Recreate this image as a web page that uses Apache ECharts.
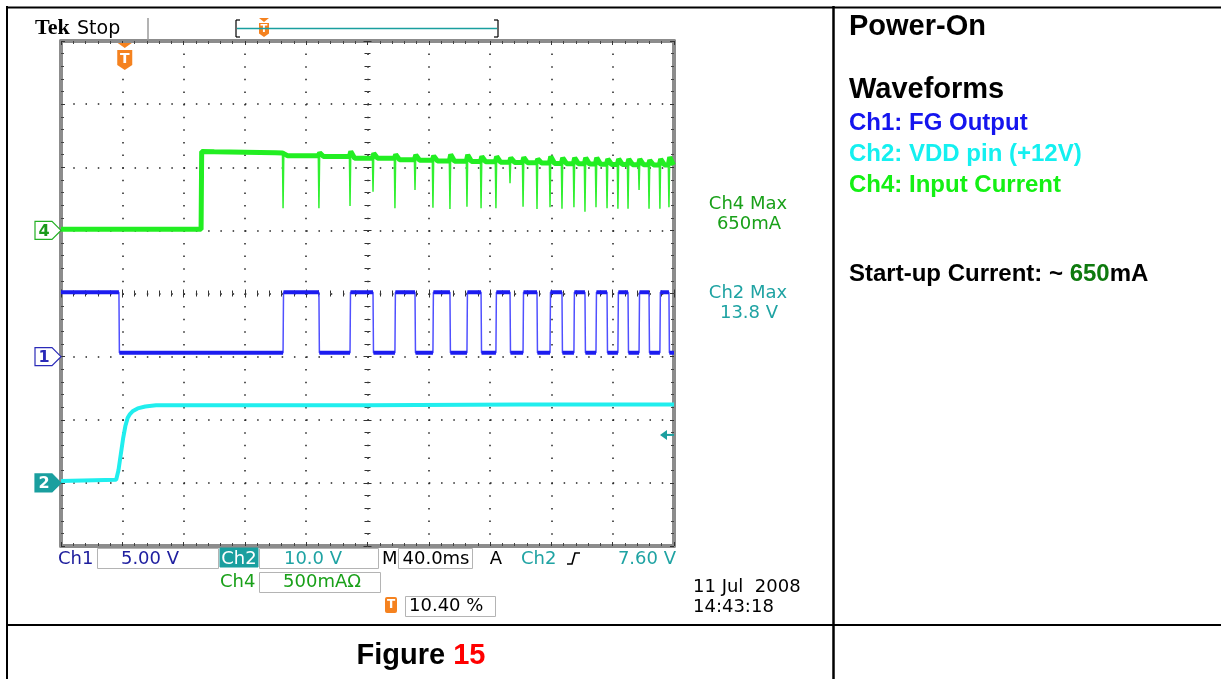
<!DOCTYPE html>
<html><head><meta charset="utf-8">
<script src="https://cdn.jsdelivr.net/npm/echarts@6/dist/echarts.min.js"></script>
<style>html,body{margin:0;padding:0;background:#fff}#c{width:1221px;height:679px}</style>
</head><body><div id="c"></div>
<script>
// ================= DATA =================
// time axis: record time in ms, 40 ms/div, 10 divisions
const timeRange = [0, 400];
const timeDiv = 40;
const triggerTime = 41.6;          // 10.40 % of record
const ch2TriggerLevel = 7.6;       // V
// Ch1 (FG output), 5 V/div: starts high, toggles at each edge time (ms)
const ch1Edges = [37.8, 144.9, 168.3, 188.6, 203.6, 217.9, 231.0, 242.7, 253.8, 264.9, 274.1, 283.8, 293.0, 301.5, 310.6, 319.1, 326.9, 334.7, 341.9, 349.1, 356.3, 363.4, 370.0, 377.2, 383.7, 390.8, 396.7];
const ch1High = 5.1;   // V
const ch1Low = 0.3;    // V
// Ch2 (VDD pin), 10 V/div
const ch2Time = [0, 36.0, 37.5, 39.0, 40.5, 42.0, 43.5, 45.0, 47.0, 50.0, 55.0, 62.0, 100, 200, 300, 400];
const ch2Volt = [0.3, 0.5, 2.0, 4.5, 7.0, 9.0, 10.3, 10.9, 11.4, 11.8, 12.1, 12.3, 12.3, 12.3, 12.4, 12.4];
// Ch4 (input current), 500 mA/div
const ch4Idle = 8;                 // mA before start
const ch4StepTime = 91.4;          // ms
const ch4PlateauTime = [91.8, 100, 120, 140];
const ch4PlateauVal = [625, 622, 618, 614];
// one commutation spike at each FG edge after start-up
const ch4SpikeLevel  = [612, 592, 585, 572, 571, 560, 556, 550, 548, 545, 543, 540, 538, 535, 533, 530, 528, 527, 525, 524, 522, 521, 520, 519, 518, 518];
const ch4SpikeBottom = [175, 175, 193, 307, 175, 320, 180, 170, 188, 175, 175, 373, 188, 170, 183, 172, 183, 148, 183, 175, 172, 172, 320, 172, 172, 183];
const ch4SpikePeak   = [620, 615, 625, 610, 600, 598, 590, 600, 598, 585, 585, 575, 578, 565, 585, 575, 575, 575, 575, 565, 565, 565, 565, 555, 565, 580];
const ch4EndVal = 518;
// channel scales (value per division)
const ch1Axis = {min: -15, max: 25, interval: 5};
const ch2Axis = {min: -10, max: 70, interval: 10};
const ch4Axis = {min: -2500, max: 1500, interval: 500};

// ================= BUILD SERIES =================
function ch1Thin() {
  const pts = []; let lvl = ch1High;
  pts.push([timeRange[0], lvl]);
  ch1Edges.forEach(t => { pts.push([t, lvl]); lvl = (lvl === ch1High ? ch1Low : ch1High); pts.push([t + 0.3, lvl]); });
  pts.push([timeRange[1], lvl]);
  return pts;
}
function ch1Thick() {
  const pts = []; let lvl = ch1High; let start = timeRange[0];
  ch1Edges.forEach(t => { pts.push([start, lvl]); pts.push([t, lvl]); pts.push('-'); lvl = (lvl === ch1High ? ch1Low : ch1High); start = t + 0.3; });
  pts.push([start, lvl]); pts.push([timeRange[1], lvl]);
  return pts;
}
const spikeTimes = ch1Edges.slice(1);
function ch4Data(withSpikes) {
  const pts = [[timeRange[0], ch4Idle], [ch4StepTime, ch4Idle]];
  ch4PlateauTime.forEach((t, i) => pts.push([t, ch4PlateauVal[i]]));
  spikeTimes.forEach((t, i) => {
    const next = i + 1 < ch4SpikeLevel.length ? ch4SpikeLevel[i + 1] : ch4EndVal;
    pts.push([t - 0.4, ch4SpikeLevel[i]]);
    if (withSpikes) pts.push([t, ch4SpikeBottom[i]]);
    pts.push([t + 0.5, ch4SpikePeak[i]]);
    pts.push([t + 3, next]);
  });
  pts.push([timeRange[1], ch4EndVal]);
  return pts;
}
const ch2Data = ch2Time.map((t, i) => [t, ch2Volt[i]]);

// ================= CHART =================
const chart = echarts.init(document.getElementById('c'), null, {renderer: 'canvas'});
const FRAME = {show: true, onZero: false, lineStyle: {color: '#8c8c8c', width: 4}};
const NOLINE = {show: false, onZero: false};
function xAx(extra) {
  return Object.assign({type: 'value', min: timeRange[0], max: timeRange[1], interval: timeDiv,
    axisLabel: {show: false}, splitLine: {show: false}, axisLine: NOLINE, axisTick: {show: false}, minorTick: {show: false}}, extra);
}
function yAx(scale, extra) {
  return Object.assign({type: 'value', min: scale.min, max: scale.max, interval: scale.interval,
    axisLabel: {show: false}, splitLine: {show: false}, axisLine: NOLINE, axisTick: {show: false}, minorTick: {show: false}}, extra);
}
const tickStyle = {show: true, inside: true, length: 4, lineStyle: {color: '#333', width: 1}};
const minorStyle = {show: true, splitNumber: 5, length: 3, lineStyle: {color: '#444', width: 1}};
const cTickIn = {show: true, inside: true, length: 4, lineStyle: {color: '#333'}};
const cTickOut = {show: true, inside: false, length: 4, lineStyle: {color: '#333'}};
const cMinor = {show: true, splitNumber: 5, length: 3, lineStyle: {color: '#333'}};

const option = {
  animation: false,
  backgroundColor: '#fff',
  grid: {left: 61, top: 41, width: 613, height: 505, containLabel: false, outerBoundsMode: 'none'},
  xAxis: [
    xAx({position: 'bottom', axisLine: FRAME, axisTick: tickStyle, minorTick: minorStyle,
      splitLine: {show: true, lineStyle: {color: '#222', width: 1.5, type: [1.5, 11.12]}}}),
    xAx({position: 'top', axisLine: FRAME, axisTick: tickStyle, minorTick: minorStyle}),
    xAx({position: 'bottom', offset: -252.5, axisTick: cTickIn, minorTick: cMinor}),
    xAx({position: 'bottom', offset: -252.5, axisTick: cTickOut, minorTick: cMinor})
  ],
  yAxis: [
    yAx(ch2Axis, {position: 'left', axisLine: FRAME, axisTick: tickStyle, minorTick: minorStyle,
      splitLine: {show: true, lineStyle: {color: '#222', width: 1.5, type: [1.5, 10.76]}}}),
    yAx(ch1Axis, {show: false}),
    yAx(ch4Axis, {show: false}),
    yAx(ch2Axis, {position: 'right', axisLine: FRAME, axisTick: tickStyle, minorTick: minorStyle}),
    yAx(ch2Axis, {position: 'left', offset: -306.5, axisTick: cTickIn, minorTick: cMinor}),
    yAx(ch2Axis, {position: 'left', offset: -306.5, axisTick: cTickOut, minorTick: cMinor})
  ],
  series: [
    {name: 'Ch2', type: 'line', xAxisIndex: 0, yAxisIndex: 0, data: ch2Data, symbol: 'none',
      lineStyle: {color: '#20eeee', width: 4}, z: 3},
    {name: 'Ch1 edges', type: 'line', xAxisIndex: 0, yAxisIndex: 1, data: ch1Thin(), symbol: 'none',
      lineStyle: {color: '#5050ff', width: 1.5}, z: 3},
    {name: 'Ch1', type: 'line', xAxisIndex: 0, yAxisIndex: 1, data: ch1Thick(), symbol: 'none', connectNulls: false,
      lineStyle: {color: '#1c1cf0', width: 4}, z: 4},
    {name: 'Ch4 spikes', type: 'line', xAxisIndex: 0, yAxisIndex: 2, data: ch4Data(true), symbol: 'none',
      lineStyle: {color: '#30f030', width: 1.5}, z: 5},
    {name: 'Ch4', type: 'line', xAxisIndex: 0, yAxisIndex: 2, data: ch4Data(false), symbol: 'none',
      lineStyle: {color: '#22ee22', width: 5}, z: 5}
  ]
};
chart.setOption(option);

// ================= DECORATION =================
function txt(text, x, base, size, family, color, opt) {
  opt = opt || {};
  const al = opt.align || 'left';
  return {type: 'text', x: x, y: base - size * 0.3, z: 100,
    style: {text: text, font: (opt.bold ? 'bold ' : '') + size + 'px ' + family, fill: color,
      align: al, textAlign: al, verticalAlign: 'middle', textVerticalAlign: 'middle', rich: opt.rich}};
}
const SC = '"DejaVu Sans"';
const AR = '"Liberation Sans", Arial';
const ORANGE = '#f5821f';
const TEAL = '#1a9f9f';
const LTEAL = '#1fa3a3';
const GRN = '#19a019';

const yG4 = chart.convertToPixel({yAxisIndex: 2}, 0);
const yG1 = chart.convertToPixel({yAxisIndex: 1}, 0);
const yG2 = chart.convertToPixel({yAxisIndex: 0}, 0);
const xTrig = chart.convertToPixel({xAxisIndex: 0}, triggerTime);
const yTrigLvl = chart.convertToPixel({yAxisIndex: 0}, ch2TriggerLevel);

function marker(y, stroke, fill, label, labelColor) {
  return [
    {type: 'polygon', z: 90, shape: {points: [[35, y - 9], [52, y - 9], [61, y], [52, y + 9], [35, y + 9]]},
      style: {fill: fill, stroke: stroke, lineWidth: 1.2}},
    {type: 'text', x: 44, y: y + 1, z: 91, style: {text: label, font: 'bold 16px ' + SC, fill: labelColor,
      align: 'center', textAlign: 'center', verticalAlign: 'middle', textVerticalAlign: 'middle'}}
  ];
}
function tShield(cx, top, w, h, fs) {
  return [
    {type: 'polygon', z: 95, shape: {points: [[cx - w / 2, top], [cx + w / 2, top], [cx + w / 2, top + h * 0.75], [cx, top + h], [cx - w / 2, top + h * 0.75]]},
      style: {fill: ORANGE}},
    {type: 'text', x: cx, y: top + h * 0.45, z: 96, style: {text: 'T', font: 'bold ' + fs + 'px ' + SC, fill: '#fff',
      align: 'center', textAlign: 'center', verticalAlign: 'middle', textVerticalAlign: 'middle'}}
  ];
}
function box(x, y, w, h, fill) {
  return {type: 'rect', z: 80, shape: {x: x, y: y, width: w, height: h}, style: {fill: fill || 'none', stroke: fill ? fill : '#b4b4b4', lineWidth: 1}};
}
function line(x1, y1, x2, y2, color, w) {
  return {type: 'line', z: 99, shape: {x1: x1, y1: y1, x2: x2, y2: y2}, style: {stroke: color, lineWidth: w}};
}

const g = [];
// table lines
g.push(line(6, 7.5, 1221, 7.5, '#000', 2));
g.push(line(7, 6, 7, 679, '#000', 2));
g.push(line(833.5, 6, 833.5, 679, '#000', 2.5));
g.push(line(6, 625, 1221, 625, '#000', 2));
// header
g.push(txt('Tek', 35, 35, 22, '"Liberation Serif", "DejaVu Serif"', '#000', {bold: true}));
g.push(txt('Stop', 77, 35, 19, SC, '#000'));
g.push(line(148, 18, 148, 40, '#9a9a9a', 1.5));
g.push(line(237, 28.5, 497, 28.5, TEAL, 1.5));
g.push(line(236, 20, 236, 37, '#000', 1.2), line(236, 20, 240, 20, '#000', 1.2), line(236, 37, 240, 37, '#000', 1.2));
g.push(line(498, 20, 498, 37, '#000', 1.2), line(494, 20, 498, 20, '#000', 1.2), line(494, 37, 498, 37, '#000', 1.2));
g.push({type: 'polygon', z: 95, shape: {points: [[259, 18], [269, 18], [264, 22]]}, style: {fill: ORANGE}});
g.push.apply(g, tShield(264, 23, 10, 14, 10));
// trigger position marker on graticule
g.push({type: 'polygon', z: 95, shape: {points: [[xTrig - 7, 43], [xTrig + 7, 43], [xTrig, 48]]}, style: {fill: ORANGE}});
g.push.apply(g, tShield(xTrig, 50, 15, 20, 14));
// channel ground markers
g.push.apply(g, marker(yG4, '#22b022', '#fff', '4', '#1a9a1a'));
g.push.apply(g, marker(yG1, '#2a2ab8', '#fff', '1', '#2a2ab8'));
g.push.apply(g, marker(yG2, TEAL, TEAL, '2', '#fff'));
// trigger level arrow
g.push({type: 'polygon', z: 95, shape: {points: [[660, yTrigLvl], [667, yTrigLvl - 5], [667, yTrigLvl + 5]]}, style: {fill: TEAL}});
g.push(line(666, yTrigLvl, 674, yTrigLvl, TEAL, 2));
// right side readouts
g.push(txt('Ch4 Max', 748, 210, 18, SC, GRN, {align: 'center'}));
g.push(txt('650mA', 749, 230, 18, SC, GRN, {align: 'center'}));
g.push(txt('Ch2 Max', 748, 299, 18, SC, LTEAL, {align: 'center'}));
g.push(txt('13.8 V', 749, 319, 18, SC, LTEAL, {align: 'center'}));
// status bar
g.push(box(97.5, 548.5, 121, 20));
g.push(box(220, 548, 38, 19, TEAL));
g.push(box(259.5, 548.5, 119, 20));
g.push(box(398.5, 548.5, 74, 20));
g.push(box(259.5, 572.5, 121, 20));
g.push(box(405.5, 596.5, 90, 20));
g.push({type: 'rect', z: 95, shape: {x: 385, y: 597, width: 12, height: 16, r: 2}, style: {fill: ORANGE}});
g.push({type: 'text', x: 391, y: 605, z: 96, style: {text: 'T', font: 'bold 12px ' + SC, fill: '#fff', align: 'center', textAlign: 'center', verticalAlign: 'middle', textVerticalAlign: 'middle'}});
g.push(txt('Ch1', 58, 565, 18, SC, '#1c1c9c'));
g.push(txt('5.00 V', 150, 565, 18, SC, '#2020a0', {align: 'center'}));
g.push(txt('Ch2', 239, 565, 18, SC, '#fff', {align: 'center'}));
g.push(txt('10.0 V', 313, 565, 18, SC, LTEAL, {align: 'center'}));
g.push(txt('M', 382, 565, 18, SC, '#000'));
g.push(txt('40.0ms', 436, 565, 18, SC, '#000', {align: 'center'}));
g.push(txt('A', 496, 565, 18, SC, '#000', {align: 'center'}));
g.push(txt('Ch2', 521, 565, 18, SC, LTEAL));
g.push({type: 'polyline', z: 99, shape: {points: [[567, 564], [572, 564], [575, 553], [580, 553]]}, style: {stroke: '#000', lineWidth: 1.6, fill: 'none'}});
g.push(txt('7.60 V', 676, 565, 18, SC, LTEAL, {align: 'right'}));
g.push(txt('Ch4', 220, 588, 18, SC, GRN));
g.push(txt('500mA\u03A9', 322, 588, 18, SC, GRN, {align: 'center'}));
g.push(txt('10.40 %', 409, 612, 18, SC, '#000'));
g.push(txt('11 Jul  2008', 693, 593, 18, SC, '#000'));
g.push(txt('14:43:18', 693, 613, 18, SC, '#000'));
// right panel
g.push(txt('Power-On', 849, 36, 29, AR, '#000', {bold: true}));
g.push(txt('Waveforms', 849, 99, 29, AR, '#000', {bold: true}));
g.push(txt('Ch1: FG Output', 849, 131, 24, AR, '#1515ee', {bold: true}));
g.push(txt('Ch2: VDD pin (+12V)', 849, 162, 24, AR, '#14f0f0', {bold: true}));
g.push(txt('Ch4: Input Current', 849, 193, 24, AR, '#14f014', {bold: true}));
g.push(txt('{a|Start-up Current: ~ }{b|650}{a|mA}', 849, 282, 24, AR, '#000', {bold: true,
  rich: {a: {font: 'bold 24px ' + AR, fill: '#000'}, b: {font: 'bold 24px ' + AR, fill: '#0e7a0e'}}}));
g.push(txt('{a|Figure }{b|15}', 421, 665, 29, AR, '#000', {bold: true, align: 'center',
  rich: {a: {font: 'bold 29px ' + AR, fill: '#000'}, b: {font: 'bold 29px ' + AR, fill: '#ff0000'}}}));

chart.setOption({graphic: {elements: g}});
</script>
</body></html>
